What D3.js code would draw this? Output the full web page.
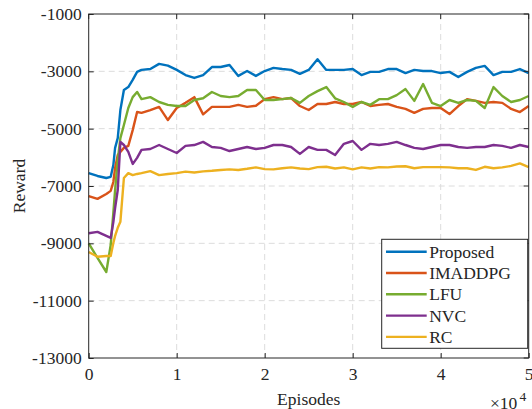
<!DOCTYPE html>
<html lang="en">
<head>
    <meta charset="UTF-8">
    <title>Reward vs Episodes</title>
    <script src="https://d3js.org/d3.v7.min.js"></script>
    <style>
        body { margin: 0; background: #fff; }
        text { font-family: "Liberation Serif", "Times New Roman", serif; fill: #262626; }
    </style>
</head>
<body>
    <div id="chart"></div>
    <script>
        // episodes (x 10^4)
        const episodes = [0, 0.1, 0.2, 0.25, 0.28, 0.3, 0.33, 0.36, 0.4, 0.45, 0.5, 0.55, 0.6,
            0.7, 0.8, 0.9, 1.0, 1.1, 1.2, 1.3, 1.4, 1.5, 1.6, 1.7, 1.8, 1.9, 2.0,
            2.1, 2.2, 2.3, 2.4, 2.5, 2.6, 2.7, 2.8, 2.9, 3.0, 3.1, 3.2, 3.3, 3.4, 3.5,
            3.6, 3.7, 3.8, 3.9, 4.0, 4.1, 4.2, 4.3, 4.4, 4.5, 4.6, 4.7, 4.8, 4.9, 5.0];

        const proposed = [-6550, -6650, -6720, -6680, -6270, -5670, -5330, -4350, -3650, -3550, -3300, -3020, -2950,
            -2920, -2740, -2800, -2950, -3130, -3230, -3130, -2850, -2850, -2780, -3160, -2990, -3160, -2990,
            -2880, -2920, -2950, -3090, -2950, -2580, -2950, -2950, -2950, -2920, -3130, -3020, -3020, -2920, -2920,
            -3060, -2950, -2990, -2990, -3060, -3020, -3200, -3020, -2880, -2810, -3130, -3020, -3020, -2920, -3060];

        const imaddpg = [-7350, -7450, -7280, -7170, -6860, -6370, -5920, -5810, -5670, -5600, -5050, -4420, -4450,
            -4350, -4240, -4700, -4280, -4100, -3900, -4500, -4240, -4240, -4240, -4170, -4240, -4200, -3970,
            -3900, -3970, -3930, -4210, -4350, -4140, -4140, -4070, -4140, -4140, -4070, -4210, -4170, -4140, -4240,
            -4310, -4450, -4310, -4280, -4280, -4490, -4210, -3970, -4030, -4100, -4070, -4100, -4310, -4420, -4210];

        const lfu = [-9000, -9510, -10000, -9060, -7940, -7140, -6090, -5330, -4870, -4280, -3900, -3720, -3970,
            -3900, -4070, -4170, -4210, -4210, -4000, -3940, -3720, -3860, -3900, -3860, -3650, -3650, -4000,
            -4000, -3970, -3930, -4100, -3860, -3690, -3550, -3940, -4070, -4240, -4070, -4170, -3970, -3970, -3830,
            -3620, -4030, -3440, -4100, -4210, -4000, -4100, -4000, -4030, -4280, -3550, -3860, -4070, -4000, -3860];

        const nvc = [-8650, -8600, -8740, -8810, -8260, -7770, -7140, -5460, -5570, -5810, -6230, -6020, -5740,
            -5710, -5570, -5710, -5850, -5600, -5570, -5460, -5640, -5670, -5780, -5710, -5640, -5710, -5670,
            -5570, -5570, -5640, -5880, -5640, -5740, -5740, -5920, -5530, -5430, -5740, -5530, -5570, -5530, -5460,
            -5570, -5670, -5710, -5640, -5570, -5570, -5640, -5670, -5640, -5640, -5570, -5600, -5670, -5570, -5640];

        const rc = [-9300, -9470, -9440, -9440, -8990, -8740, -8460, -8250, -6720, -6550, -6620, -6580, -6550,
            -6480, -6620, -6580, -6550, -6500, -6530, -6490, -6470, -6440, -6420, -6440, -6400, -6350, -6410,
            -6420, -6380, -6350, -6390, -6410, -6340, -6330, -6390, -6350, -6420, -6350, -6390, -6340, -6350, -6320,
            -6310, -6380, -6340, -6340, -6340, -6350, -6380, -6380, -6440, -6330, -6380, -6350, -6300, -6210, -6340];

        const seriesNames = ["Proposed", "IMADDPG", "LFU", "NVC", "RC"];
        const seriesColors = ["#0072BD", "#D95319", "#77AC30", "#7E2F8E", "#EDB120"];
        const seriesValues = [proposed, imaddpg, lfu, nvc, rc];

        const xTicks = [0, 1, 2, 3, 4, 5];
        const yTicks = [-13000, -11000, -9000, -7000, -5000, -3000, -1000];

        const width = 532;
        const height = 409;
        const margin = { top: 14, right: 3.3, bottom: 51, left: 88.7 };
        const plotWidth = width - margin.left - margin.right;
        const plotHeight = height - margin.top - margin.bottom;

        const svg = d3.select("#chart").append("svg")
            .attr("width", width)
            .attr("height", height);

        const g = svg.append("g")
            .attr("transform", `translate(${margin.left},${margin.top})`);

        const xScale = d3.scaleLinear().domain([0, 5]).range([0, plotWidth]);
        const yScale = d3.scaleLinear().domain([-13000, -1000]).range([plotHeight, 0]);

        // grid
        g.append("g").selectAll("line").data(xTicks.slice(1, -1)).join("line")
            .attr("x1", d => xScale(d)).attr("x2", d => xScale(d))
            .attr("y1", 0).attr("y2", plotHeight)
            .attr("stroke", "#dcdcdc").attr("stroke-dasharray", "6,4");
        g.append("g").selectAll("line").data(yTicks.slice(1, -1)).join("line")
            .attr("y1", d => yScale(d)).attr("y2", d => yScale(d))
            .attr("x1", 0).attr("x2", plotWidth)
            .attr("stroke", "#dcdcdc").attr("stroke-dasharray", "6,4");

        // lines
        const line = d3.line()
            .x((d, i) => xScale(episodes[i]))
            .y(d => yScale(d));

        seriesValues.forEach((vals, k) => {
            g.append("path")
                .datum(vals)
                .attr("fill", "none")
                .attr("stroke", seriesColors[k])
                .attr("stroke-width", 2.4)
                .attr("stroke-linejoin", "round")
                .attr("d", line);
        });

        // axes (ticks inward, MATLAB style)
        const xAxis = g.append("g")
            .attr("transform", `translate(0,${plotHeight})`)
            .call(d3.axisBottom(xScale).tickValues(xTicks).tickSize(-5).tickPadding(9.5).tickFormat(d3.format("d")));
        const yAxis = g.append("g")
            .call(d3.axisLeft(yScale).tickValues(yTicks).tickSize(-5).tickPadding(7).tickFormat(d => d));
        [xAxis, yAxis].forEach(ax => {
            ax.select(".domain").remove();
            ax.selectAll("line").attr("stroke", "#262626");
            ax.selectAll("text")
                .style("font-family", '"Liberation Serif", serif')
                .style("font-size", "17.5px")
                .attr("fill", "#262626");
        });

        // top/right ticks
        g.append("g").selectAll("line").data(xTicks).join("line")
            .attr("x1", d => xScale(d)).attr("x2", d => xScale(d))
            .attr("y1", 0).attr("y2", 5).attr("stroke", "#262626");
        g.append("g").selectAll("line").data(yTicks).join("line")
            .attr("y1", d => yScale(d)).attr("y2", d => yScale(d))
            .attr("x1", plotWidth).attr("x2", plotWidth - 5).attr("stroke", "#262626");

        // box
        g.append("rect")
            .attr("width", plotWidth).attr("height", plotHeight)
            .attr("fill", "none").attr("stroke", "#262626").attr("stroke-width", 1);

        // labels
        svg.append("text")
            .attr("x", margin.left + plotWidth / 2)
            .attr("y", 405)
            .attr("text-anchor", "middle")
            .style("font-size", "17.5px")
            .text("Episodes");

        svg.append("text")
            .attr("transform", `translate(25,${margin.top + plotHeight / 2}) rotate(-90)`)
            .attr("text-anchor", "middle")
            .style("font-size", "17.5px")
            .text("Reward");

        const exp = svg.append("text")
            .attr("x", 490)
            .attr("y", 408.5)
            .style("font-size", "17.5px");
        exp.append("tspan").text("\u00d710");
        exp.append("tspan").attr("dx", 2).attr("dy", -8).style("font-size", "13.5px").text("4");

        // legend
        const legend = svg.append("g").attr("transform", "translate(381.7,239.3)");
        legend.append("rect")
            .attr("width", 146).attr("height", 109)
            .attr("fill", "#fff").attr("stroke", "#262626").attr("stroke-width", 1);
        seriesNames.forEach((name, k) => {
            const y = 12.4 + k * 21.3;
            legend.append("line")
                .attr("x1", 4.3).attr("x2", 45)
                .attr("y1", y).attr("y2", y)
                .attr("stroke", seriesColors[k]).attr("stroke-width", 2.4);
            legend.append("text")
                .attr("x", 47.5).attr("y", y + 6)
                .style("font-size", "17.5px")
                .text(name);
        });
    </script>
</body>
</html>
